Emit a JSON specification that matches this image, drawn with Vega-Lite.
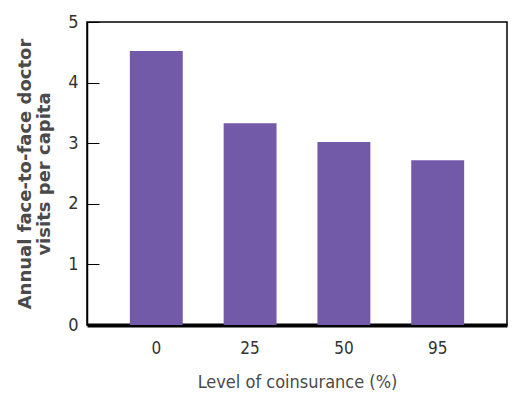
{
  "$schema": "https://vega.github.io/schema/vega-lite/v6.json",
  "autosize": {"type": "none"},
  "padding": {"left": 87, "top": 22, "right": 19, "bottom": 80},
  "width": 420,
  "height": 303,
  "background": "white",
  "config": {
    "view": {"stroke": "black", "strokeWidth": 1.5},
    "axis": {"grid": false, "labelColor": "#333333", "titleColor": "#4a4a4a"}
  },
  "data": {
    "values": [
      {"coinsurance": "0", "visits": 4.52},
      {"coinsurance": "25", "visits": 3.33},
      {"coinsurance": "50", "visits": 3.02},
      {"coinsurance": "95", "visits": 2.72}
    ]
  },
  "mark": {"type": "bar", "color": "#735aa8"},
  "encoding": {
    "x": {
      "field": "coinsurance",
      "type": "ordinal",
      "sort": null,
      "scale": {"paddingInner": 0.436, "paddingOuter": 0.457},
      "axis": {
        "title": "Level of coinsurance (%)",
        "labelAngle": 0,
        "ticks": false,
        "domainColor": "black",
        "domainWidth": 4,
        "labelFont": "DejaVu Sans Condensed, Liberation Sans",
        "labelFontSize": 17,
        "labelPadding": 15,
        "titleFont": "DejaVu Sans Condensed, Liberation Sans",
        "titleFontSize": 18,
        "titleFontWeight": "normal",
        "titlePadding": 17
      }
    },
    "y": {
      "field": "visits",
      "type": "quantitative",
      "scale": {"domain": [0, 5], "nice": false},
      "axis": {
        "title": ["Annual face-to-face doctor", "visits per capita"],
        "values": [0, 1, 2, 3, 4, 5],
        "tickSize": -12,
        "tickColor": "black",
        "tickWidth": 1,
        "domainColor": "black",
        "domainWidth": 1.5,
        "labelFont": "DejaVu Sans Condensed, Liberation Sans",
        "labelFontSize": 18,
        "labelPadding": 21,
        "titleFont": "DejaVu Sans",
        "titleFontWeight": "bold",
        "titleFontSize": 18,
        "titleLineHeight": 19,
        "titlePadding": 14
      }
    }
  }
}
